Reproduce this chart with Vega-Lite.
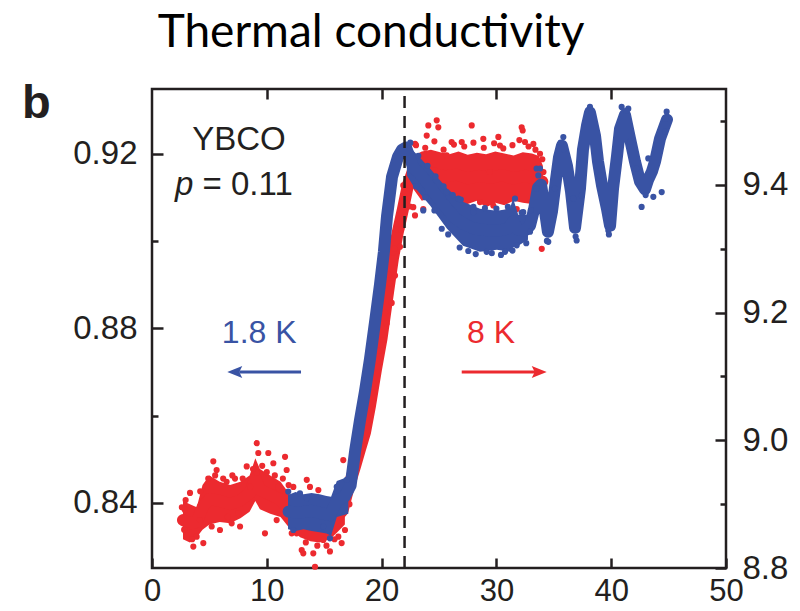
{
  "$schema": "https://vega.github.io/schema/vega-lite/v6.json",
  "width": 574,
  "height": 479,
  "autosize": "none",
  "padding": {"left": 152, "top": 89, "right": 74, "bottom": 43},
  "background": "white",
  "config": {
    "view": {"stroke": "#231f20", "strokeWidth": 2.5},
    "axis": {"labelFont": "Liberation Sans", "labelFontSize": 33, "labelColor": "#231f20", "tickColor": "#231f20", "tickWidth": 2.5, "domain": false, "grid": false, "labelFlush": false, "labelOverlap": false, "labelBound": false}
  },
  "datasets": {
    "redBand": [
      {"seg": "a", "x": 2.7, "v": 8.905, "v2": 8.845}, {"seg": "a", "x": 3.3, "v": 8.9, "v2": 8.84}, {"seg": "a", "x": 3.9, "v": 8.895, "v2": 8.848}, {"seg": "a", "x": 4.4, "v": 8.93, "v2": 8.86}, {"seg": "a", "x": 5.0, "v": 8.945, "v2": 8.868}, {"seg": "a", "x": 5.9, "v": 8.935, "v2": 8.872}, {"seg": "a", "x": 6.8, "v": 8.93, "v2": 8.87}, {"seg": "a", "x": 7.7, "v": 8.935, "v2": 8.878}, {"seg": "a", "x": 8.5, "v": 8.945, "v2": 8.888}, {"seg": "a", "x": 9.0, "v": 8.972, "v2": 8.905}, {"seg": "a", "x": 9.4, "v": 8.955, "v2": 8.892}, {"seg": "a", "x": 10.3, "v": 8.945, "v2": 8.885}, {"seg": "a", "x": 11.2, "v": 8.935, "v2": 8.88}, {"seg": "a", "x": 12.0, "v": 8.915, "v2": 8.862}, {"seg": "a", "x": 12.9, "v": 8.905, "v2": 8.848}, {"seg": "a", "x": 13.8, "v": 8.9, "v2": 8.842}, {"seg": "a", "x": 14.6, "v": 8.895, "v2": 8.84}, {"seg": "a", "x": 15.5, "v": 8.895, "v2": 8.845}, {"seg": "a", "x": 16.1, "v": 8.905, "v2": 8.855}, {"seg": "a", "x": 16.8, "v": 8.928, "v2": 8.868},
      {"seg": "b", "x": 22.7, "v": 9.445, "v2": 9.395}, {"seg": "b", "x": 23.5, "v": 9.452, "v2": 9.375}, {"seg": "b", "x": 24.3, "v": 9.455, "v2": 9.38}, {"seg": "b", "x": 25.1, "v": 9.451, "v2": 9.37}, {"seg": "b", "x": 25.9, "v": 9.448, "v2": 9.372}, {"seg": "b", "x": 26.7, "v": 9.452, "v2": 9.365}, {"seg": "b", "x": 27.5, "v": 9.447, "v2": 9.37}, {"seg": "b", "x": 28.3, "v": 9.45, "v2": 9.375}, {"seg": "b", "x": 29.1, "v": 9.448, "v2": 9.365}, {"seg": "b", "x": 29.9, "v": 9.452, "v2": 9.372}, {"seg": "b", "x": 30.7, "v": 9.449, "v2": 9.368}, {"seg": "b", "x": 31.5, "v": 9.446, "v2": 9.375}, {"seg": "b", "x": 32.3, "v": 9.451, "v2": 9.372}, {"seg": "b", "x": 33.1, "v": 9.449, "v2": 9.37}, {"seg": "b", "x": 33.7, "v": 9.445, "v2": 9.375}, {"seg": "b", "x": 34.05, "v": 9.43, "v2": 9.385}
    ],
    "redLine": [
      {"x": 2.7, "v": 8.875}, {"x": 3.3, "v": 8.87}, {"x": 3.9, "v": 8.872}, {"x": 4.4, "v": 8.895}, {"x": 5.0, "v": 8.908}, {"x": 5.9, "v": 8.905}, {"x": 6.8, "v": 8.9}, {"x": 7.7, "v": 8.906}, {"x": 8.5, "v": 8.917}, {"x": 9.0, "v": 8.94}, {"x": 9.4, "v": 8.922}, {"x": 10.3, "v": 8.915}, {"x": 11.2, "v": 8.907}, {"x": 12.0, "v": 8.888}, {"x": 12.9, "v": 8.875}, {"x": 13.8, "v": 8.87}, {"x": 14.6, "v": 8.867}, {"x": 15.5, "v": 8.87}, {"x": 16.1, "v": 8.88}, {"x": 16.6, "v": 8.89}, {"x": 17.1, "v": 8.925}, {"x": 17.7, "v": 8.96}, {"x": 18.1, "v": 8.985}, {"x": 18.55, "v": 9.012}, {"x": 19.0, "v": 9.055}, {"x": 19.5, "v": 9.11}, {"x": 20.0, "v": 9.16}, {"x": 20.56, "v": 9.232}, {"x": 20.99, "v": 9.285}, {"x": 21.4, "v": 9.325}, {"x": 21.86, "v": 9.362}, {"x": 22.3, "v": 9.4}, {"x": 22.74, "v": 9.422}, {"x": 23.5, "v": 9.415}, {"x": 24.5, "v": 9.418}, {"x": 25.5, "v": 9.413}, {"x": 26.5, "v": 9.416}, {"x": 27.5, "v": 9.41}, {"x": 28.5, "v": 9.414}, {"x": 29.5, "v": 9.411}, {"x": 30.5, "v": 9.415}, {"x": 31.5, "v": 9.41}, {"x": 32.5, "v": 9.414}, {"x": 33.3, "v": 9.41}, {"x": 34.0, "v": 9.405}
    ],
    "redPts": [
      {"x": 2.93, "v": 8.9065}, {"x": 3.31, "v": 8.9175}, {"x": 2.87, "v": 8.891}, {"x": 3.02, "v": 8.8595}, {"x": 3.6, "v": 8.8335}, {"x": 4.47, "v": 8.839}, {"x": 4.18, "v": 8.8752}, {"x": 3.89, "v": 8.849}, {"x": 4.76, "v": 8.927}, {"x": 5.34, "v": 8.967}, {"x": 5.63, "v": 8.9535}, {"x": 5.2, "v": 8.865}, {"x": 5.92, "v": 8.8595}, {"x": 6.5, "v": 8.935}, {"x": 7.23, "v": 8.94}, {"x": 6.94, "v": 8.87}, {"x": 7.67, "v": 8.865}, {"x": 7.52, "v": 8.886}, {"x": 8.25, "v": 8.959}, {"x": 8.54, "v": 8.927}, {"x": 9.12, "v": 8.9954}, {"x": 9.26, "v": 8.98}, {"x": 9.12, "v": 8.949}, {"x": 9.84, "v": 8.8543}, {"x": 10.13, "v": 8.98}, {"x": 10.57, "v": 8.964}, {"x": 10.86, "v": 8.875}, {"x": 11.0, "v": 8.927}, {"x": 11.59, "v": 8.974}, {"x": 11.73, "v": 8.9535}, {"x": 12.31, "v": 8.927}, {"x": 12.17, "v": 8.8543}, {"x": 12.6, "v": 8.8543}, {"x": 13.48, "v": 8.938}, {"x": 13.76, "v": 8.927}, {"x": 13.04, "v": 8.828}, {"x": 13.18, "v": 8.823}, {"x": 14.05, "v": 8.823}, {"x": 14.2, "v": 8.802}, {"x": 14.49, "v": 8.922}, {"x": 14.92, "v": 8.844}, {"x": 15.5, "v": 8.826}, {"x": 15.79, "v": 8.891}, {"x": 16.23, "v": 8.849}, {"x": 16.52, "v": 8.839}, {"x": 16.66, "v": 8.969}, {"x": 16.96, "v": 8.927}, {"x": 16.81, "v": 8.8595},
      {"x": 2.6, "v": 8.895}, {"x": 2.8, "v": 8.86}, {"x": 3.5, "v": 8.845}, {"x": 4.2, "v": 8.92}, {"x": 4.9, "v": 8.94}, {"x": 5.5, "v": 8.945}, {"x": 6.2, "v": 8.94}, {"x": 6.6, "v": 8.88}, {"x": 7.0, "v": 8.945}, {"x": 7.9, "v": 8.94}, {"x": 8.8, "v": 8.955}, {"x": 9.6, "v": 8.96}, {"x": 10.0, "v": 8.95}, {"x": 10.7, "v": 8.945}, {"x": 11.4, "v": 8.94}, {"x": 11.9, "v": 8.93}, {"x": 12.4, "v": 8.86}, {"x": 13.4, "v": 8.84}, {"x": 14.4, "v": 8.835}, {"x": 15.2, "v": 8.835}, {"x": 15.9, "v": 8.845}, {"x": 17.2, "v": 8.9},
      {"x": 17.83, "v": 8.995}, {"x": 18.12, "v": 9.016}, {"x": 18.84, "v": 9.027}, {"x": 18.7, "v": 9.058}, {"x": 19.28, "v": 9.089}, {"x": 19.57, "v": 9.115}, {"x": 19.86, "v": 9.141}, {"x": 20.15, "v": 9.157}, {"x": 20.44, "v": 9.183}, {"x": 20.88, "v": 9.215}, {"x": 20.73, "v": 9.246}, {"x": 21.6, "v": 9.303}, {"x": 21.31, "v": 9.33}, {"x": 21.02, "v": 9.2946}, {"x": 21.17, "v": 9.258}, {"x": 21.89, "v": 9.399}, {"x": 22.47, "v": 9.366}, {"x": 22.91, "v": 9.352},
      {"x": 17.4, "v": 8.95}, {"x": 18.3, "v": 9.0}, {"x": 19.2, "v": 9.075}, {"x": 19.7, "v": 9.14}, {"x": 20.3, "v": 9.2}, {"x": 20.6, "v": 9.26}, {"x": 21.1, "v": 9.3}, {"x": 21.7, "v": 9.33}, {"x": 22.0, "v": 9.38}, {"x": 22.4, "v": 9.41},
      {"x": 24.07, "v": 9.493}, {"x": 24.8, "v": 9.501}, {"x": 24.94, "v": 9.49}, {"x": 27.85, "v": 9.493}, {"x": 22.91, "v": 9.464}, {"x": 23.93, "v": 9.477}, {"x": 26.1, "v": 9.467}, {"x": 26.98, "v": 9.467}, {"x": 28.86, "v": 9.472}, {"x": 30.17, "v": 9.475}, {"x": 30.31, "v": 9.4616}, {"x": 32.2, "v": 9.49}, {"x": 32.29, "v": 9.485}, {"x": 32.49, "v": 9.467}, {"x": 33.22, "v": 9.464}, {"x": 33.8, "v": 9.4486}, {"x": 33.95, "v": 9.2997}, {"x": 22.76, "v": 9.365}, {"x": 23.63, "v": 9.362}, {"x": 26.98, "v": 9.3676}, {"x": 28.57, "v": 9.373}, {"x": 29.73, "v": 9.3676}, {"x": 30.9, "v": 9.3416}, {"x": 31.77, "v": 9.362}, {"x": 30.9, "v": 9.357}, {"x": 27.7, "v": 9.362}, {"x": 23.34, "v": 9.4356}, {"x": 25.67, "v": 9.446}, {"x": 29.44, "v": 9.42}, {"x": 33.51, "v": 9.425}, {"x": 33.65, "v": 9.404},
      {"x": 23.0, "v": 9.462}, {"x": 23.8, "v": 9.458}, {"x": 24.6, "v": 9.468}, {"x": 25.4, "v": 9.455}, {"x": 26.3, "v": 9.463}, {"x": 27.2, "v": 9.46}, {"x": 28.0, "v": 9.466}, {"x": 28.9, "v": 9.458}, {"x": 29.8, "v": 9.465}, {"x": 30.6, "v": 9.457}, {"x": 31.4, "v": 9.462}, {"x": 32.0, "v": 9.47}, {"x": 32.8, "v": 9.46}, {"x": 33.4, "v": 9.455}, {"x": 34.0, "v": 9.44}, {"x": 34.1, "v": 9.42}, {"x": 34.0, "v": 9.395}, {"x": 33.9, "v": 9.37}
    ],
    "blueBand": [
      {"seg": "a", "x": 11.85, "v": 0.8418, "v2": 0.834}, {"seg": "a", "x": 12.5, "v": 0.8425, "v2": 0.8336}, {"seg": "a", "x": 13.2, "v": 0.842, "v2": 0.834}, {"seg": "a", "x": 13.9, "v": 0.8423, "v2": 0.8336}, {"seg": "a", "x": 14.6, "v": 0.842, "v2": 0.8333}, {"seg": "a", "x": 15.2, "v": 0.8416, "v2": 0.833}, {"seg": "a", "x": 15.6, "v": 0.8414, "v2": 0.8325}, {"seg": "a", "x": 16.1, "v": 0.845, "v2": 0.8368}, {"seg": "a", "x": 17.1, "v": 0.846, "v2": 0.8375},
      {"seg": "b", "x": 22.2, "v": 0.9223, "v2": 0.915}, {"seg": "b", "x": 22.74, "v": 0.9207, "v2": 0.9127}, {"seg": "b", "x": 24.22, "v": 0.9166, "v2": 0.9081}, {"seg": "b", "x": 25.7, "v": 0.912, "v2": 0.9028}, {"seg": "b", "x": 27.09, "v": 0.909, "v2": 0.8989}, {"seg": "b", "x": 28.57, "v": 0.9074, "v2": 0.8975}, {"seg": "b", "x": 30.05, "v": 0.9069, "v2": 0.898}, {"seg": "b", "x": 31.18, "v": 0.9074, "v2": 0.8975}, {"seg": "b", "x": 31.45, "v": 0.9098, "v2": 0.8985}, {"seg": "b", "x": 31.9, "v": 0.906, "v2": 0.8989}, {"seg": "b", "x": 32.75, "v": 0.906, "v2": 0.9003}
    ],
    "blueLine": [
      {"x": 11.9, "v": 0.838}, {"x": 12.9, "v": 0.8378}, {"x": 13.9, "v": 0.8382}, {"x": 14.8, "v": 0.8376}, {"x": 15.5, "v": 0.8372}, {"x": 16.1, "v": 0.8405}, {"x": 16.8, "v": 0.8415}, {"x": 17.3, "v": 0.844}, {"x": 17.7, "v": 0.852}, {"x": 18.12, "v": 0.859}, {"x": 18.55, "v": 0.8655}, {"x": 18.99, "v": 0.873}, {"x": 19.43, "v": 0.8815}, {"x": 19.86, "v": 0.89}, {"x": 20.2, "v": 0.8975}, {"x": 20.47, "v": 0.9056}, {"x": 20.91, "v": 0.9147}, {"x": 21.43, "v": 0.9193}, {"x": 21.78, "v": 0.9209}, {"x": 22.13, "v": 0.9214}, {"x": 22.74, "v": 0.917}, {"x": 23.52, "v": 0.9148}, {"x": 24.22, "v": 0.9124}, {"x": 24.91, "v": 0.9099}, {"x": 25.7, "v": 0.9074}, {"x": 26.39, "v": 0.9053}, {"x": 27.09, "v": 0.904}, {"x": 27.87, "v": 0.903}, {"x": 28.57, "v": 0.9026}, {"x": 29.44, "v": 0.9024}, {"x": 30.31, "v": 0.9024}, {"x": 31.01, "v": 0.9028}, {"x": 31.45, "v": 0.9044}, {"x": 31.88, "v": 0.9026}, {"x": 32.49, "v": 0.9024}, {"x": 32.93, "v": 0.9035}, {"x": 33.28, "v": 0.9072}, {"x": 33.62, "v": 0.9122}, {"x": 33.89, "v": 0.9129}, {"x": 34.15, "v": 0.9083}, {"x": 34.49, "v": 0.9021}, {"x": 34.84, "v": 0.9067}, {"x": 35.19, "v": 0.914}, {"x": 35.45, "v": 0.9191}, {"x": 35.71, "v": 0.9218}, {"x": 36.15, "v": 0.9172}, {"x": 36.5, "v": 0.9113}, {"x": 36.85, "v": 0.903}, {"x": 37.28, "v": 0.912}, {"x": 37.54, "v": 0.9209}, {"x": 37.89, "v": 0.9264}, {"x": 38.15, "v": 0.9294}, {"x": 38.59, "v": 0.9241}, {"x": 38.85, "v": 0.9182}, {"x": 39.2, "v": 0.9127}, {"x": 39.63, "v": 0.9074}, {"x": 39.9, "v": 0.9035}, {"x": 40.16, "v": 0.912}, {"x": 40.51, "v": 0.9195}, {"x": 40.77, "v": 0.9257}, {"x": 41.2, "v": 0.9289}, {"x": 41.64, "v": 0.9234}, {"x": 42.07, "v": 0.9182}, {"x": 42.51, "v": 0.9136}, {"x": 42.94, "v": 0.9118}, {"x": 43.21, "v": 0.914}, {"x": 43.55, "v": 0.9159}, {"x": 43.82, "v": 0.9182}, {"x": 44.25, "v": 0.9234}, {"x": 44.86, "v": 0.9278}
    ],
    "bluePts": [
      {"x": 11.87, "v": 0.8426}, {"x": 12.89, "v": 0.8422}, {"x": 12.31, "v": 0.8338}, {"x": 13.48, "v": 0.8411}, {"x": 14.92, "v": 0.8346}, {"x": 15.5, "v": 0.8319}, {"x": 16.09, "v": 0.8437}, {"x": 16.96, "v": 0.8453},
      {"x": 23.63, "v": 0.907}, {"x": 26.68, "v": 0.9097}, {"x": 27.55, "v": 0.8977}, {"x": 29.15, "v": 0.8975}, {"x": 30.75, "v": 0.8975}, {"x": 31.77, "v": 0.899}, {"x": 31.62, "v": 0.9097}, {"x": 33.5, "v": 0.9166}, {"x": 33.65, "v": 0.915}, {"x": 25.67, "v": 0.9112}, {"x": 25.24, "v": 0.9028}, {"x": 27.99, "v": 0.9066}, {"x": 32.34, "v": 0.9066},
      {"x": 22.5, "v": 0.9225}, {"x": 23.2, "v": 0.9195}, {"x": 24.0, "v": 0.9172}, {"x": 24.7, "v": 0.9148}, {"x": 25.4, "v": 0.9125}, {"x": 26.2, "v": 0.9105}, {"x": 26.9, "v": 0.9095}, {"x": 28.0, "v": 0.9078}, {"x": 29.0, "v": 0.9075}, {"x": 30.0, "v": 0.9074}, {"x": 31.0, "v": 0.9078}, {"x": 32.2, "v": 0.9065}, {"x": 33.0, "v": 0.907}, {"x": 23.0, "v": 0.9125}, {"x": 23.8, "v": 0.91}, {"x": 24.6, "v": 0.907}, {"x": 25.8, "v": 0.9015}, {"x": 26.8, "v": 0.8985}, {"x": 28.2, "v": 0.897}, {"x": 29.6, "v": 0.8972}, {"x": 30.4, "v": 0.8968}, {"x": 31.4, "v": 0.8978}, {"x": 32.6, "v": 0.8995},
      {"x": 33.8, "v": 0.9166}, {"x": 33.51, "v": 0.912}, {"x": 32.93, "v": 0.9021}, {"x": 34.52, "v": 0.8998}, {"x": 35.1, "v": 0.912}, {"x": 35.83, "v": 0.9238}, {"x": 36.7, "v": 0.9097}, {"x": 37.43, "v": 0.9104}, {"x": 36.99, "v": 0.9001}, {"x": 38.15, "v": 0.9307}, {"x": 39.02, "v": 0.915}, {"x": 39.75, "v": 0.9024}, {"x": 40.91, "v": 0.9307}, {"x": 41.49, "v": 0.9303}, {"x": 41.64, "v": 0.9227}, {"x": 43.23, "v": 0.9189}, {"x": 42.65, "v": 0.9078}, {"x": 43.67, "v": 0.9101}, {"x": 44.4, "v": 0.9112}, {"x": 44.83, "v": 0.9296}, {"x": 44.69, "v": 0.925}, {"x": 42.22, "v": 0.9166},
      {"x": 35.6, "v": 0.9225}, {"x": 35.9, "v": 0.921}, {"x": 38.0, "v": 0.93}, {"x": 38.3, "v": 0.9295}, {"x": 41.3, "v": 0.9298}, {"x": 44.7, "v": 0.928}, {"x": 34.4, "v": 0.9}, {"x": 36.9, "v": 0.901}, {"x": 39.8, "v": 0.9015}, {"x": 43.0, "v": 0.9105}
    ]
  },
  "layer": [
    {
      "encoding": {
        "x": {"field": "x", "type": "quantitative", "scale": {"domain": [0, 50], "nice": false, "zero": false}, "axis": {"orient": "top", "values": [10, 20, 30, 40], "labels": false, "tickSize": -10, "title": null}},
        "y": {"field": "v", "type": "quantitative", "scale": {"domain": [8.8, 9.55], "nice": false, "zero": false}, "axis": {"orient": "right", "values": [8.8, 8.9, 9.0, 9.1, 9.2, 9.3, 9.4, 9.5], "labelExpr": "round(datum.value*10) % 2 == 1 ? '' : format(datum.value, '.1f')", "tickSize": {"condition": {"test": "round(datum.value*10) % 2 == 1", "value": -6}, "value": -11}, "labelPadding": 27, "title": null}}
      },
      "layer": [
        {"data": {"name": "redBand"}, "mark": {"type": "area", "color": "#ec2a2f", "opacity": 1}, "encoding": {"y2": {"field": "v2"}, "detail": {"field": "seg"}}},
        {"data": {"name": "redLine"}, "mark": {"type": "line", "color": "#ec2a2f", "strokeWidth": 12, "strokeCap": "round", "strokeJoin": "round"}},
        {"data": {"name": "redPts"}, "mark": {"type": "circle", "color": "#ec2a2f", "size": 38, "opacity": 1}}
      ]
    },
    {
      "encoding": {
        "x": {"field": "x", "type": "quantitative", "scale": {"domain": [0, 50], "nice": false, "zero": false}, "axis": {"orient": "bottom", "values": [0, 10, 20, 30, 40, 50], "tickSize": -10, "labelPadding": 18, "labelFontSize": 31, "title": null}},
        "y": {"field": "v", "type": "quantitative", "scale": {"domain": [0.8251, 0.9348], "nice": false, "zero": false}, "axis": {"orient": "left", "values": [0.84, 0.86, 0.88, 0.9, 0.92], "labelExpr": "round(datum.value*100) % 4 != 0 ? '' : format(datum.value, '.2f')", "tickSize": {"condition": {"test": "round(datum.value*100) % 4 != 0", "value": -6}, "value": -11}, "labelPadding": 26, "title": null}}
      },
      "layer": [
        {"data": {"name": "blueBand"}, "mark": {"type": "area", "color": "#3953a4", "opacity": 1}, "encoding": {"y2": {"field": "v2"}, "detail": {"field": "seg"}}},
        {"data": {"name": "blueLine"}, "mark": {"type": "line", "color": "#3953a4", "strokeWidth": 12, "strokeCap": "round", "strokeJoin": "round"}},
        {"data": {"name": "bluePts"}, "mark": {"type": "circle", "color": "#3953a4", "size": 38, "opacity": 1}},
        {"data": {"values": [{"x": 22, "v": 0.8251, "v2": 0.9348}]}, "mark": {"type": "rule", "color": "#231f20", "strokeWidth": 2.5, "strokeDash": [12, 8]}, "encoding": {"y2": {"field": "v2"}}},
        {"data": {"values": [{"x": 19.08, "v": 0.94452, "label": "Thermal conductivity"}]}, "mark": {"type": "text", "font": "Lato", "fontSize": 46, "color": "#000000", "align": "center", "baseline": "alphabetic"}, "encoding": {"text": {"field": "label"}}},
        {"data": {"values": [{"x": 7.58, "v": 0.92092, "label": "YBCO"}]}, "mark": {"type": "text", "font": "Liberation Sans", "fontSize": 33, "color": "#231f20", "align": "center", "baseline": "alphabetic"}, "encoding": {"text": {"field": "label"}}},
        {"data": {"values": [{"x": 4.4, "v": 0.9106, "label": "= 0.11"}]}, "mark": {"type": "text", "font": "Liberation Sans", "fontSize": 33, "color": "#231f20", "align": "left", "baseline": "alphabetic"}, "encoding": {"text": {"field": "label"}}},
        {"data": {"values": [{"x": 2.0, "v": 0.9106, "label": "p"}]}, "mark": {"type": "text", "font": "Liberation Sans", "fontSize": 33, "fontStyle": "italic", "color": "#231f20", "align": "left", "baseline": "alphabetic"}, "encoding": {"text": {"field": "label"}}},
        {"data": {"values": [{"x": -11.32, "v": 0.92825, "label": "b"}]}, "mark": {"type": "text", "font": "Liberation Sans", "fontSize": 47, "fontWeight": "bold", "color": "#231f20", "align": "left", "baseline": "alphabetic"}, "encoding": {"text": {"field": "label"}}},
        {"data": {"values": [{"x": 9.34, "v": 0.87661, "series": "1.8 K"}, {"x": 29.53, "v": 0.87661, "series": "8 K"}]}, "mark": {"type": "text", "font": "Liberation Sans", "fontSize": 32, "align": "center", "baseline": "alphabetic"}, "encoding": {"text": {"field": "series"}, "color": {"field": "series", "type": "nominal", "scale": {"domain": ["1.8 K", "8 K"], "range": ["#3953a4", "#ec2a2f"]}, "legend": null}}},
        {"data": {"values": [{"x": 7.6, "x2": 12.98, "v": 0.86996, "series": "1.8 K"}, {"x": 26.98, "x2": 33.6, "v": 0.86996, "series": "8 K"}]}, "mark": {"type": "rule", "strokeWidth": 3}, "encoding": {"x2": {"field": "x2"}, "color": {"field": "series", "type": "nominal", "scale": {"domain": ["1.8 K", "8 K"], "range": ["#3953a4", "#ec2a2f"]}, "legend": null}}},
        {"data": {"values": [{"x": 7.21, "v": 0.86996, "series": "1.8 K"}, {"x": 33.73, "v": 0.86996, "series": "8 K"}]}, "mark": {"type": "point", "filled": true, "size": 225, "opacity": 1, "strokeWidth": 0}, "encoding": {"shape": {"field": "series", "type": "nominal", "scale": {"domain": ["1.8 K", "8 K"], "range": ["M -1 0 L 1 -0.8 L 0.6 0 L 1 0.8 Z", "M 1 0 L -1 -0.8 L -0.6 0 L -1 0.8 Z"]}, "legend": null}, "color": {"field": "series", "type": "nominal", "scale": {"domain": ["1.8 K", "8 K"], "range": ["#3953a4", "#ec2a2f"]}, "legend": null}}}
      ]
    }
  ],
  "resolve": {"scale": {"y": "independent"}, "axis": {"x": "independent"}}
}
